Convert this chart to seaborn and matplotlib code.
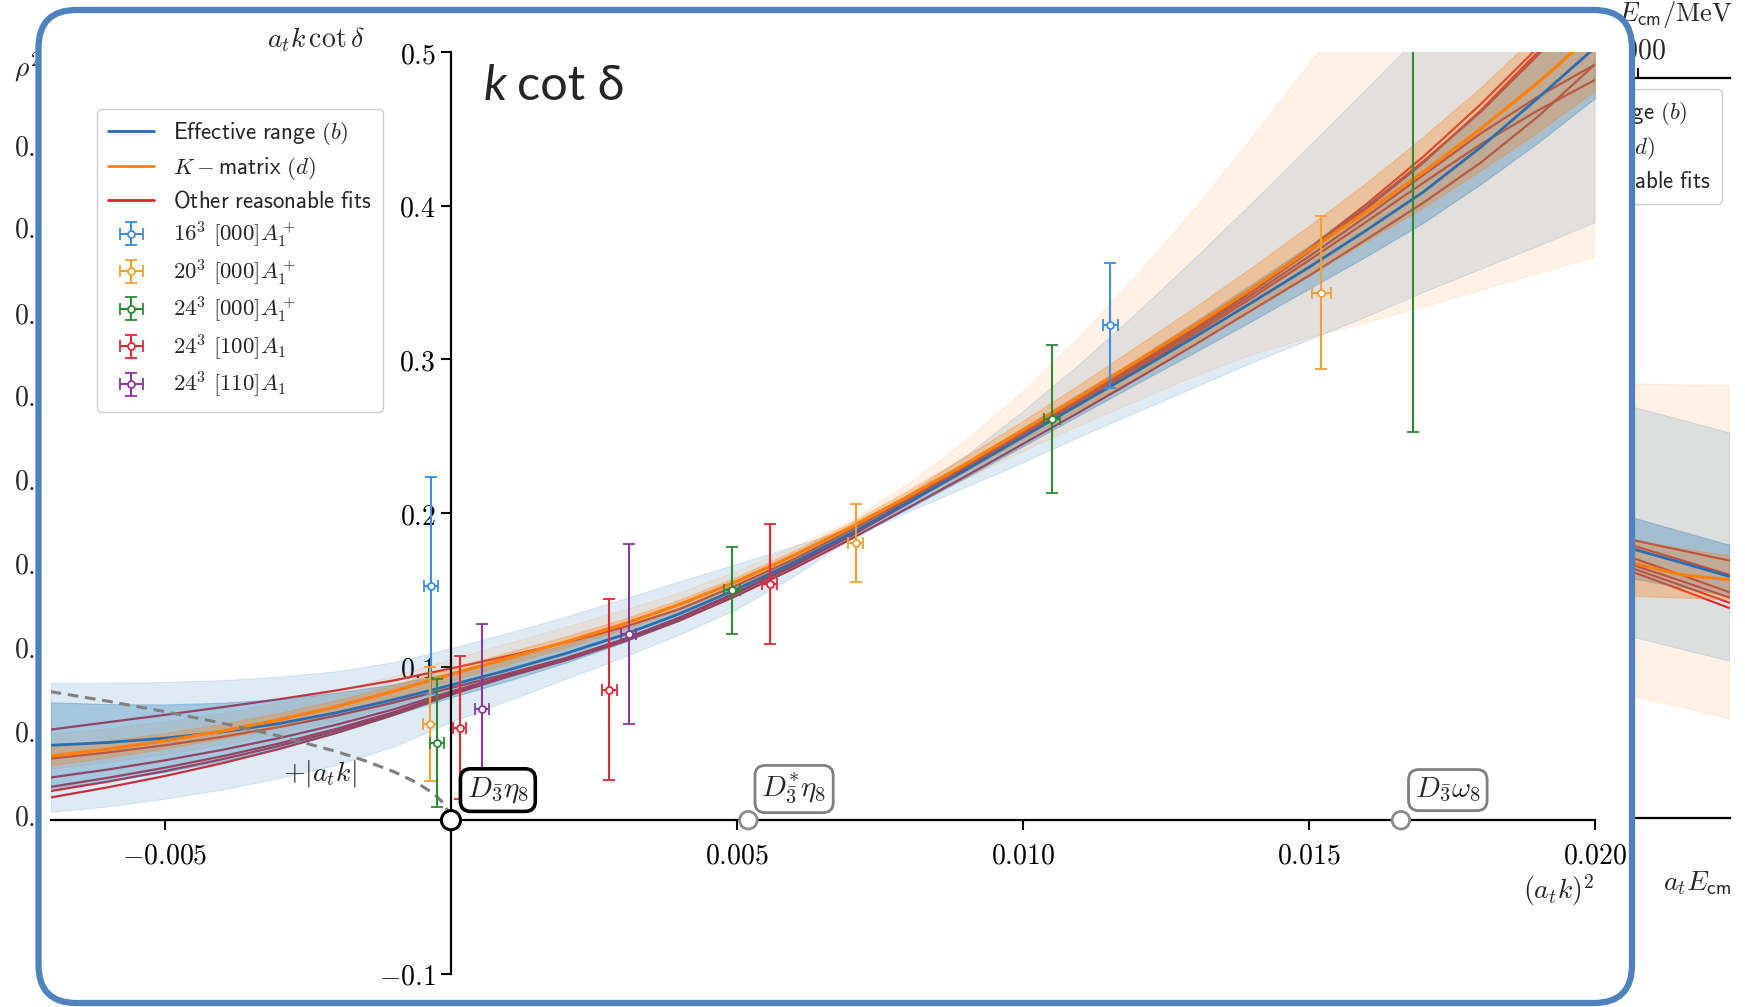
import numpy as np
import pandas as pd
import matplotlib
matplotlib.use("Agg")
import matplotlib.pyplot as plt
import seaborn as sns
from matplotlib.patches import FancyBboxPatch
from matplotlib.transforms import IdentityTransform
from matplotlib.lines import Line2D

# ---------------- data ----------------
x_grid = [-0.007, -0.006, -0.005, -0.004, -0.003, -0.002, -0.001, 0.000, 0.001, 0.002,
          0.003, 0.004, 0.005, 0.006, 0.007, 0.008, 0.009, 0.010, 0.011, 0.012,
          0.013, 0.014, 0.015, 0.016, 0.017, 0.018, 0.019, 0.020]

eff_range = [0.0488, 0.0506, 0.0534, 0.0575, 0.0630, 0.0700, 0.0785, 0.0880, 0.0978, 0.1085,
             0.1205, 0.1345, 0.1505, 0.1680, 0.1870, 0.2070, 0.2280, 0.2495, 0.2710, 0.2925,
             0.3145, 0.3370, 0.3600, 0.3840, 0.4090, 0.4380, 0.4700, 0.5030]
eff_in_lo = [0.0208, 0.0256, 0.0314, 0.0385, 0.0470, 0.0570, 0.0685, 0.0800, 0.0908, 0.1025,
             0.1155, 0.1305, 0.1470, 0.1650, 0.1840, 0.2030, 0.2230, 0.2435, 0.2640, 0.2845,
             0.3045, 0.3250, 0.3460, 0.3670, 0.3890, 0.4140, 0.4410, 0.4700]
eff_in_hi = [0.0768, 0.0756, 0.0754, 0.0765, 0.0790, 0.0830, 0.0885, 0.0960, 0.1048, 0.1145,
             0.1255, 0.1385, 0.1540, 0.1710, 0.1900, 0.2110, 0.2330, 0.2555, 0.2780, 0.3005,
             0.3245, 0.3490, 0.3740, 0.4010, 0.4290, 0.4620, 0.4990, 0.5380]
eff_out_lo = [0.0054, 0.0090, 0.0140, 0.0200, 0.0275, 0.0360, 0.0480, 0.0640, 0.0780, 0.0920,
              0.1060, 0.1210, 0.1375, 0.1590, 0.1840, 0.2010, 0.2170, 0.2330, 0.2500, 0.2660,
              0.2820, 0.2980, 0.3130, 0.3280, 0.3440, 0.3590, 0.3740, 0.3895]
eff_out_hi = [0.0894, 0.0895, 0.0900, 0.0912, 0.0935, 0.0970, 0.1030, 0.1120, 0.1220, 0.1325,
              0.1440, 0.1555, 0.1670, 0.1785, 0.1905, 0.2125, 0.2375, 0.2665, 0.2975, 0.3310,
              0.3660, 0.4020, 0.4390, 0.4760, 0.5140, 0.5540, 0.5950, 0.6370]

kmatrix = [0.0417, 0.0463, 0.0517, 0.0580, 0.0654, 0.0740, 0.0840, 0.0950, 0.1055, 0.1160,
           0.1275, 0.1405, 0.1555, 0.1725, 0.1910, 0.2110, 0.2320, 0.2540, 0.2760, 0.2990,
           0.3220, 0.3460, 0.3710, 0.3960, 0.4220, 0.4500, 0.4800, 0.5130]
km_in_lo = [0.0357, 0.0408, 0.0467, 0.0532, 0.0609, 0.0698, 0.0800, 0.0910, 0.1017, 0.1124,
            0.1241, 0.1373, 0.1525, 0.1695, 0.1880, 0.2070, 0.2270, 0.2480, 0.2680, 0.2890,
            0.3100, 0.3320, 0.3550, 0.3770, 0.3990, 0.4230, 0.4480, 0.4750]
km_in_hi = [0.0477, 0.0518, 0.0567, 0.0628, 0.0699, 0.0782, 0.0880, 0.0990, 0.1093, 0.1196,
            0.1309, 0.1437, 0.1585, 0.1755, 0.1940, 0.2150, 0.2370, 0.2600, 0.2840, 0.3090,
            0.3340, 0.3600, 0.3870, 0.4150, 0.4450, 0.4770, 0.5120, 0.5510]
km_out_lo = [0.0330, 0.0375, 0.0428, 0.0490, 0.0562, 0.0645, 0.0742, 0.0850, 0.0960, 0.1070,
             0.1195, 0.1335, 0.1490, 0.1665, 0.1860, 0.2040, 0.2220, 0.2400, 0.2570, 0.2730,
             0.2890, 0.3030, 0.3140, 0.3240, 0.3340, 0.3450, 0.3560, 0.3667]
km_out_hi = [0.0560, 0.0595, 0.0640, 0.0695, 0.0762, 0.0840, 0.0935, 0.1045, 0.1150, 0.1255,
             0.1365, 0.1480, 0.1620, 0.1780, 0.1950, 0.2190, 0.2470, 0.2790, 0.3150, 0.3550,
             0.3980, 0.4440, 0.4920, 0.5420, 0.5940, 0.6480, 0.7040, 0.7620]

other_fit_1 = [0.0590, 0.0638, 0.0686, 0.0736, 0.0788, 0.0845, 0.0910, 0.0988, 0.1070, 0.1155,
               0.1255, 0.1375, 0.1530, 0.1700, 0.1890, 0.2095, 0.2305, 0.2520, 0.2740, 0.2965,
               0.3200, 0.3450, 0.3720, 0.4010, 0.4320, 0.4660, 0.5030, 0.5450]
other_fit_2 = [0.0401, 0.0441, 0.0488, 0.0543, 0.0607, 0.0681, 0.0766, 0.0861, 0.0955, 0.1055,
               0.1175, 0.1318, 0.1480, 0.1658, 0.1852, 0.2065, 0.2280, 0.2500, 0.2720, 0.2950,
               0.3190, 0.3440, 0.3700, 0.3980, 0.4280, 0.4620, 0.5000, 0.5400]
other_fit_3 = [0.0278, 0.0330, 0.0390, 0.0458, 0.0535, 0.0622, 0.0722, 0.0838, 0.0945, 0.1050,
               0.1175, 0.1320, 0.1485, 0.1665, 0.1862, 0.2075, 0.2290, 0.2505, 0.2725, 0.2950,
               0.3180, 0.3420, 0.3670, 0.3930, 0.4200, 0.4470, 0.4710, 0.4920]
other_fit_4 = [0.0217, 0.0276, 0.0342, 0.0416, 0.0500, 0.0595, 0.0703, 0.0828, 0.0940, 0.1045,
               0.1170, 0.1315, 0.1480, 0.1660, 0.1858, 0.2070, 0.2285, 0.2500, 0.2715, 0.2935,
               0.3165, 0.3400, 0.3645, 0.3895, 0.4150, 0.4400, 0.4620, 0.4820]
other_fit_5 = [0.0190, 0.0251, 0.0320, 0.0397, 0.0484, 0.0582, 0.0693, 0.0820, 0.0935, 0.1040,
               0.1160, 0.1300, 0.1462, 0.1640, 0.1832, 0.2035, 0.2240, 0.2450, 0.2660, 0.2875,
               0.3095, 0.3320, 0.3545, 0.3780, 0.4020, 0.4280, 0.4580, 0.4920]
other_fit_6 = [0.0148, 0.0214, 0.0288, 0.0371, 0.0464, 0.0568, 0.0685, 0.0817, 0.0938, 0.1045,
               0.1170, 0.1315, 0.1482, 0.1665, 0.1865, 0.2085, 0.2300, 0.2520, 0.2745, 0.2975,
               0.3210, 0.3455, 0.3715, 0.3990, 0.4290, 0.4610, 0.4980, 0.5380]

# +|a_t k| dashed curve
abs_k_x = [-0.007, -0.006, -0.005, -0.004, -0.003, -0.002, -0.0015, -0.001, -0.0006, -0.0003, -0.0001, 0.0]
abs_k_y = [0.0837, 0.0775, 0.0707, 0.0632, 0.0548, 0.0447, 0.0387, 0.0316, 0.0245, 0.0173, 0.0100, 0.0]

# lattice data points
pts_16_000_x = [-0.00035, 0.01153]
pts_16_000_y = [0.1528, 0.3223]
pts_16_000_ex = [0.00012, 0.00013]
pts_16_000_ey = [0.0705, 0.0407]

pts_20_000_x = [-0.00036, 0.00708, 0.01522]
pts_20_000_y = [0.0625, 0.1805, 0.3435]
pts_20_000_ex = [0.00012, 0.00013, 0.00016]
pts_20_000_ey = [0.0370, 0.0252, 0.0500]

pts_24_000_x = [-0.00025, 0.00492, 0.01051, 0.01682]
pts_24_000_y = [0.0503, 0.1497, 0.2615, 0.5600]
pts_24_000_ex = [0.00012, 0.00014, 0.00014, 0.00015]
pts_24_000_ey = [0.0415, 0.0283, 0.0482, 0.3070]

pts_24_100_x = [0.00015, 0.00277, 0.00557]
pts_24_100_y = [0.0603, 0.0851, 0.1540]
pts_24_100_ex = [0.00012, 0.00013, 0.00013]
pts_24_100_ey = [0.0466, 0.0588, 0.0390]

pts_24_110_x = [0.00054, 0.00311]
pts_24_110_y = [0.0727, 0.1211]
pts_24_110_ex = [0.00012, 0.00013]
pts_24_110_ey_lo = [0.0390, 0.0586]
pts_24_110_ey_hi = [0.0553, 0.0586]

# thresholds
thr_x = [0.0, 0.0052, 0.01661]
thr_labels = [r"$D_{\bar{\mathbf{3}}}\eta_{\mathbf{8}}$",
              r"$D^{*}_{\bar{\mathbf{3}}}\eta_{\mathbf{8}}$",
              r"$D_{\bar{\mathbf{3}}}\omega_{\mathbf{8}}$"]
thr_label_xy = [(0.00082, 0.0196), (0.0060, 0.0203), (0.01743, 0.0196)]

x_ticks = [-0.005, 0.005, 0.010, 0.015, 0.020]
x_ticklabels = [r"$-0.005$", r"$0.005$", r"$0.010$", r"$0.015$", r"$0.020$"]
y_ticks = [-0.1, 0.1, 0.2, 0.3, 0.4, 0.5]
y_ticklabels = [r"$-0.1$", r"$0.1$", r"$0.2$", r"$0.3$", r"$0.4$", r"$0.5$"]

legend_labels = [r"$\mathsf{Effective\ range}\ (b)$",
                 r"$K-\mathsf{matrix}\ (d)$",
                 r"$\mathsf{Other\ reasonable\ fits}$",
                 r"$16^3\ [000]A_1^+$",
                 r"$20^3\ [000]A_1^+$",
                 r"$24^3\ [000]A_1^+$",
                 r"$24^3\ [100]A_1$",
                 r"$24^3\ [110]A_1$"]

# partially visible neighbouring chart (right), normalised coordinates
side_x = [0.50, 0.75, 0.995]
side_peach_hi = [0.5874, 0.5860, 0.5850]
side_peach_lo = [0.1654, 0.1510, 0.1346]
side_gray_hi = [0.5566, 0.5390, 0.5210]
side_gray_lo = [0.2459, 0.2290, 0.2128]
side_blue_hi = [0.4072, 0.3880, 0.3693]
side_blue_lo = [0.3243, 0.3120, 0.3005]
side_orng_hi = [0.3764, 0.3650, 0.3550]
side_orng_lo = [0.3005, 0.2980, 0.2958]
side_blue_line = [0.3646, 0.3456, 0.3266]
side_orng_line = [0.3455, 0.3289, 0.3219]
side_red_lines = [[0.3764, 0.3620, 0.3480], [0.3693, 0.3490, 0.3289], [0.3527, 0.3290, 0.3053],
                  [0.3432, 0.3210, 0.2981], [0.3385, 0.3150, 0.2911], [0.3338, 0.3090, 0.2839]]
left_strip_ticks = ["0.8", "0.7", "0.6", "0.5", "0.4", "0.3", "0.2", "0.1", "0.0"]
left_strip_Y = [147, 230, 315, 398, 482, 566, 650, 734, 818]

# ---------------- styling ----------------
sns.set_theme(style="white")
plt.rcParams["font.family"] = ["DejaVu Sans"]
plt.rcParams["mathtext.fontset"] = "cm"
plt.rcParams["axes.unicode_minus"] = True

C_BLUE = "#2a6db0"
C_ORANGE = "#ff7f0e"
C_RED = "#e3232b"
BAND_BLUE = "#1f77b4"
BAND_ORANGE = "#ff7f0e"
EB_COLORS = ["#3d8ee6", "#f2a033", "#2e8b34", "#e8283a", "#8a3b98"]
LEG_KW = dict(borderaxespad=0, fontsize=16.5, fancybox=True, edgecolor="#cccccc", framealpha=1,
              handlelength=2.0, labelspacing=0.33, borderpad=0.5, handletextpad=0.8)

W, H = 1745, 1007
def fx(X):
    return X / W
def fy(Y):
    return 1 - Y / H

fig = plt.figure(figsize=(W / 100, H / 100), dpi=100)
fig.patch.set_facecolor("white")

# ---------- neighbouring chart strip (right) ----------
ax2 = fig.add_axes([fx(1530), fy(818), fx(1730) - fx(1530), fy(78) - fy(818)])
ax2.set_zorder(0.5)
ax2.set_xlim(0, 1)
ax2.set_ylim(0, 1)
ax2.fill_between(side_x, side_peach_lo, side_peach_hi, color=BAND_ORANGE, alpha=0.1, lw=0.8)
ax2.fill_between(side_x, side_gray_lo, side_gray_hi, color=BAND_BLUE, alpha=0.15, lw=0.8)
for lines in side_red_lines:
    sns.lineplot(x=side_x, y=lines, ax=ax2, color=C_RED, lw=1.5, zorder=1.5, legend=False)
ax2.fill_between(side_x, side_blue_lo, side_blue_hi, color=BAND_BLUE, alpha=0.3, lw=0.8, zorder=2)
ax2.fill_between(side_x, side_orng_lo, side_orng_hi, color=BAND_ORANGE, alpha=0.3, lw=0.8, zorder=2)
sns.lineplot(x=side_x, y=side_blue_line, ax=ax2, color=C_BLUE, lw=2, zorder=3, legend=False)
sns.lineplot(x=side_x, y=side_orng_line, ax=ax2, color=C_ORANGE, lw=2.2, zorder=3, legend=False)
ax2.spines["left"].set_visible(False)
ax2.spines["right"].set_visible(False)
for s in ["top", "bottom"]:
    ax2.spines[s].set_color("black")
    ax2.spines[s].set_linewidth(1.6)
ax2.set_yticks([])
ax2.xaxis.set_ticks_position("top")
ax2.set_xticks([0.54])
ax2.set_xticklabels([r"$3000$"])
ax2.tick_params(axis="x", top=True, direction="out", length=7, width=1.5, color="black",
                labelsize=20, pad=3)
ax2.set_xlabel("")
ax2.set_ylabel("")
ax2.legend([Line2D([], [], color=C_BLUE, lw=2), Line2D([], [], color=C_ORANGE, lw=2),
            Line2D([], [], color=C_RED, lw=2)], legend_labels[:3],
           loc="upper left", bbox_to_anchor=(fx(1436), fy(89)), bbox_transform=fig.transFigure,
           **LEG_KW)
fig.text(fx(1732), fy(15), r"$E_{\mathsf{cm}}/\mathrm{MeV}$", ha="right", va="center",
         fontsize=19, zorder=0.5)
fig.text(fx(1697), fy(883), r"$a_t E_{\mathsf{cm}}$", ha="center", va="center",
         fontsize=20, zorder=0.5)

# ---------- neighbouring chart strip (left) ----------
fig.text(fx(14.5), fy(68), r"$\rho^2|t|^2$", ha="left", va="center", fontsize=20, zorder=0.5)
for lab, Y in zip(left_strip_ticks, left_strip_Y):
    fig.text(fx(14.5), fy(Y), "$" + lab + "$", ha="left", va="center", fontsize=20, zorder=0.5)

# ---------- rounded slide frame ----------
frame = FancyBboxPatch((38.5, 4), 1593.5, 993, boxstyle="round,pad=0,rounding_size=38",
                       transform=IdentityTransform(), ec="#4f81bd", fc="white", lw=4.5, zorder=1)
fig.add_artist(frame)

# ---------- main axes ----------
ax = fig.add_axes([fx(50.6), fy(973.8), fx(1594.8) - fx(50.6), fy(52.3) - fy(973.8)])
ax.set_zorder(3)
ax.patch.set_alpha(0)
ax.set_xlim(-0.007, 0.020)
ax.set_ylim(-0.1, 0.5)

# other fits (drawn below the bands)
df_red = pd.DataFrame({
    "x": x_grid * 6,
    "y": other_fit_1 + other_fit_2 + other_fit_3 + other_fit_4 + other_fit_5 + other_fit_6,
    "fit": sum([[i] * len(x_grid) for i in range(6)], []),
})
sns.lineplot(data=df_red, x="x", y="y", units="fit", estimator=None, color=C_RED, lw=1.6,
             ax=ax, legend=False, zorder=1.5)

# bands
ax.fill_between(x_grid, eff_out_lo, eff_out_hi, color=BAND_BLUE, alpha=0.14, lw=0.8, zorder=2)
ax.fill_between(x_grid, km_out_lo, km_out_hi, color=BAND_ORANGE, alpha=0.10, lw=0.8, zorder=2)
ax.fill_between(x_grid, eff_in_lo, eff_in_hi, color=BAND_BLUE, alpha=0.30, lw=0.8, zorder=2)
ax.fill_between(x_grid, km_in_lo, km_in_hi, color=BAND_ORANGE, alpha=0.30, lw=0.8, zorder=2)

sns.lineplot(x=x_grid, y=eff_range, ax=ax, color=C_BLUE, lw=2.0, zorder=3, legend=False)
sns.lineplot(x=x_grid, y=kmatrix, ax=ax, color=C_ORANGE, lw=2.4, zorder=3, legend=False)

sns.lineplot(x=abs_k_x, y=abs_k_y, ax=ax, color="#808080", lw=2.2, zorder=3, legend=False)
ax.lines[-1].set_dashes((3.5, 2.2))

# error bars
eb_kw = dict(fmt="o", mfc="white", ms=5, mew=1.3, elinewidth=1.5, capsize=4, capthick=1.5, zorder=5)
ebs = []
ebs.append(ax.errorbar(pts_16_000_x, pts_16_000_y, xerr=pts_16_000_ex, yerr=pts_16_000_ey,
                       color=EB_COLORS[0], mec=EB_COLORS[0], **eb_kw))
ebs.append(ax.errorbar(pts_20_000_x, pts_20_000_y, xerr=pts_20_000_ex, yerr=pts_20_000_ey,
                       color=EB_COLORS[1], mec=EB_COLORS[1], **eb_kw))
ebs.append(ax.errorbar(pts_24_000_x, pts_24_000_y, xerr=pts_24_000_ex, yerr=pts_24_000_ey,
                       color=EB_COLORS[2], mec=EB_COLORS[2], **eb_kw))
ebs.append(ax.errorbar(pts_24_100_x, pts_24_100_y, xerr=pts_24_100_ex, yerr=pts_24_100_ey,
                       color=EB_COLORS[3], mec=EB_COLORS[3], **eb_kw))
ebs.append(ax.errorbar(pts_24_110_x, pts_24_110_y, xerr=pts_24_110_ex,
                       yerr=[pts_24_110_ey_lo, pts_24_110_ey_hi],
                       color=EB_COLORS[4], mec=EB_COLORS[4], **eb_kw))

# spines / ticks
ax.spines["top"].set_visible(False)
ax.spines["right"].set_visible(False)
ax.spines["left"].set_position(("data", 0))
ax.spines["bottom"].set_position(("data", 0))
for s in ["left", "bottom"]:
    ax.spines[s].set_color("black")
    ax.spines[s].set_linewidth(1.6)
    ax.spines[s].set_zorder(4.5)
ax.set_xticks(x_ticks)
ax.set_xticklabels(x_ticklabels)
ax.set_yticks(y_ticks)
ax.set_yticklabels(y_ticklabels)
ax.tick_params(axis="both", bottom=True, left=True, direction="out", length=7, width=1.5,
               color="black", labelsize=20, labelcolor="black")
ax.tick_params(axis="x", pad=8)
ax.tick_params(axis="y", pad=4)
ax.set_xlabel("")
ax.set_ylabel("")

# thresholds
ax.scatter(thr_x, [0, 0, 0], s=[190, 160, 160], facecolors="white",
           edgecolors=["black", "#8c8c8c", "#8c8c8c"], linewidths=[2.2, 2.0, 2.0],
           zorder=7, clip_on=False)
for (tx, ty), lab, ec, lw in zip(thr_label_xy, thr_labels, ["black", "#808080", "#808080"],
                                 [2.6, 2.0, 2.0]):
    ax.text(tx, ty, lab, fontsize=21, ha="center", va="center", zorder=7,
            bbox=dict(boxstyle="round,pad=0.22,rounding_size=0.35", fc="white", ec=ec, lw=lw))

ax.text(-0.0023, 0.0303, r"$+|a_t k|$", fontsize=20, ha="center", va="center", zorder=6)
ax.text(-0.00237, 0.508, r"$a_t k\,\cot\delta$", fontsize=20, ha="center", va="center")
ax.text(0.01937, -0.0456, r"$(a_t k)^2$", fontsize=20, ha="center", va="center")

# legend
handles = [Line2D([], [], color=C_BLUE, lw=2), Line2D([], [], color=C_ORANGE, lw=2),
           Line2D([], [], color=C_RED, lw=2)] + ebs
leg = ax.legend(handles, legend_labels, loc="upper left", bbox_to_anchor=(0.030, 0.9385), **LEG_KW)
leg.set_zorder(8)

# slide title "k cot δ"
TITLE_FONT = ["Lato", "DejaVu Sans"]
t1 = fig.text(fx(484), fy(100), "k", fontsize=35, family=TITLE_FONT, style="italic",
              ha="left", va="baseline", zorder=9)
fig.canvas.draw()
bb = t1.get_window_extent()
fig.text((bb.x1 + 10) / W, fy(100), "cot δ", fontsize=35, family=TITLE_FONT,
         ha="left", va="baseline", zorder=9)

fig.savefig("out.png", dpi=100, facecolor="white")
